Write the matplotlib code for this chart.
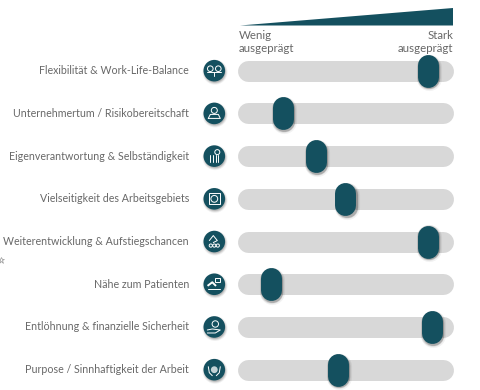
import matplotlib
matplotlib.use("Agg")
import matplotlib.pyplot as plt
from matplotlib.patches import Circle, Polygon, Rectangle

labels = ["Flexibilität & Work-Life-Balance", "Unternehmertum / Risikobereitschaft",
          "Eigenverantwortung & Selbständigkeit", "Vielseitigkeit des Arbeitsgebiets",
          "Weiterentwicklung & Aufstiegschancen", "Nähe zum Patienten",
          "Entlöhnung & finanzielle Sicherheit", "Purpose / Sinnhaftigkeit der Arbeit"]
values = [92.5, 18.2, 34.8, 50, 92.5, 12, 94.6, 46]

TEAL = "#14505f"
TEXT = "#686868"
W, H = 480, 390

plt.rcParams['font.family'] = ['Lato', 'DejaVu Sans']
fig = plt.figure(figsize=(4.8, 3.9), dpi=100, facecolor="white")

# overlay in pixels for the wedge and the round icons
bg = fig.add_axes([0, 0, 1, 1])
bg.set_xlim(0, W)
bg.set_ylim(H, 0)
bg.axis("off")

# slider area: value 0..100 between the track cap centres, rows 0..7
ROW_TOP, ROW_BOTTOM = 70.7, 369.7
X0, X1 = 247.8, 442.8
ax = fig.add_axes([X0 / W, 1 - ROW_BOTTOM / H, (X1 - X0) / W, (ROW_BOTTOM - ROW_TOP) / H])
ax.set_xlim(0, 100)
ax.set_ylim(7, 0)
ax.axis("off")
ax.patch.set_alpha(0)

bg.add_patch(Polygon([(240, 25.5), (453, 8), (453, 25.5)], closed=True, fc=TEAL, ec="none"))
bg.text(239, 35.5, "Wenig", color=TEXT, fontsize=8.3, ha="left", va="center")
bg.text(239, 49, "ausgeprägt", color=TEXT, fontsize=8.3, ha="left", va="center")
bg.text(453, 35.5, "Stark", color=TEXT, fontsize=8.3, ha="right", va="center")
bg.text(453, 49, "ausgeprägt", color=TEXT, fontsize=8.3, ha="right", va="center")


def soft_shadow(a, x, y, lw, dx, dy):
    for extra, alpha in [(3, 0.05), (2, 0.07), (1, 0.1), (0, 0.14)]:
        a.plot(x, y, color="black", lw=lw + extra, alpha=alpha, solid_capstyle="round", clip_on=False,
               transform=a.transData + matplotlib.transforms.ScaledTranslation(dx / 100, -dy / 100, fig.dpi_scale_trans))


def icon(i, cx, cy):
    s = dict(color="white", lw=0.7, solid_capstyle="round")
    if i == 0:  # balance
        bg.plot([cx - 7, cx + 7], [cy + 1, cy + 1], **s)
        bg.plot([cx, cx], [cy + 1, cy + 5], **s)
        bg.add_patch(Circle((cx - 4, cy - 2), 2.8, fc="none", ec="white", lw=0.7))
        bg.add_patch(Circle((cx + 4, cy - 2), 2.8, fc="none", ec="white", lw=0.7))
    elif i == 1:  # person with briefcase
        bg.add_patch(Circle((cx, cy - 3), 3, fc="none", ec="white", lw=0.7))
        bg.plot([cx - 6, cx - 4, cx + 4, cx + 6, cx - 6], [cy + 5, cy + 1, cy + 1, cy + 5, cy + 5], **s)
    elif i == 2:  # figures and check
        bg.add_patch(Circle((cx + 3, cy - 4), 2.5, fc="none", ec="white", lw=0.7))
        for dx in (-4, -1.5, 1.5, 4):
            bg.plot([cx + dx, cx + dx], [cy - 1, cy + 6], **s)
    elif i == 3:  # framed circle
        bg.add_patch(Rectangle((cx - 5.5, cy - 5.5), 11, 11, fc="none", ec="white", lw=0.7))
        bg.add_patch(Circle((cx, cy), 3.4, fc="none", ec="white", lw=0.7))
    elif i == 4:  # steps
        bg.plot([cx - 5, cx - 1, cx + 3, cx - 1], [cy - 1, cy - 6, cy - 1, cy + 1], **s)
        for dx, dy in [(-3.5, 4), (0, 4), (3.5, 4)]:
            bg.add_patch(Circle((cx + dx, cy + dy), 1.6, fc="none", ec="white", lw=0.7))
    elif i == 5:  # patient
        bg.add_patch(Rectangle((cx + 1, cy - 6), 5, 4, fc="none", ec="white", lw=0.7))
        bg.plot([cx - 6, cx - 2, cx + 1], [cy + 1, cy - 2, cy + 1], color="white", lw=1.4)
        bg.plot([cx - 6, cx + 6], [cy + 5, cy + 5], **s)
    elif i == 6:  # hand with coin
        bg.add_patch(Circle((cx + 1, cy - 3), 3.2, fc="none", ec="white", lw=0.7))
        bg.plot([cx - 7, cx - 2, cx + 6, cx + 1, cx - 7], [cy + 3, cy + 2, cy + 3, cy + 6, cy + 6], **s)
    else:  # hands with heart
        bg.add_patch(Circle((cx, cy), 3.4, fc="white", ec="none", alpha=0.75))
        bg.plot([cx - 6, cx - 5, cx - 2], [cy - 3, cy + 3, cy + 6], **s)
        bg.plot([cx + 6, cx + 5, cx + 2], [cy - 3, cy + 3, cy + 6], **s)


for i, (label, value) in enumerate(zip(labels, values)):
    row_y = ROW_TOP + i * (ROW_BOTTOM - ROW_TOP) / 7
    bg.text(189, row_y, label, color=TEXT, fontsize=7.65, ha="right", va="center")

    # icon with a soft shadow
    for extra, alpha in [(12.5, 0.06), (11.5, 0.1), (10.5, 0.14)]:
        bg.add_patch(Circle((215, row_y + 1.5), extra, fc="black", ec="none", alpha=alpha))
    bg.add_patch(Circle((214.3, row_y), 10.8, fc=TEAL, ec="none"))
    icon(i, 214.3, row_y)

    ax.plot([0, 100], [i, i], color="#d8d8d8", lw=15.1, solid_capstyle="round", clip_on=False, zorder=1)
    knob_y = [i - 0.14, i + 0.14]
    soft_shadow(ax, [value, value], knob_y, 15.1, 1.2, 1.8)
    ax.plot([value, value], knob_y, color=TEAL, lw=15.1, solid_capstyle="round", clip_on=False, zorder=3)

# small cursor mark on the left edge
bg.plot([1], [260], marker="*", ms=5, mfc="white", mec="#999999", mew=0.5, clip_on=False)

fig.savefig("out.png", dpi=100)
